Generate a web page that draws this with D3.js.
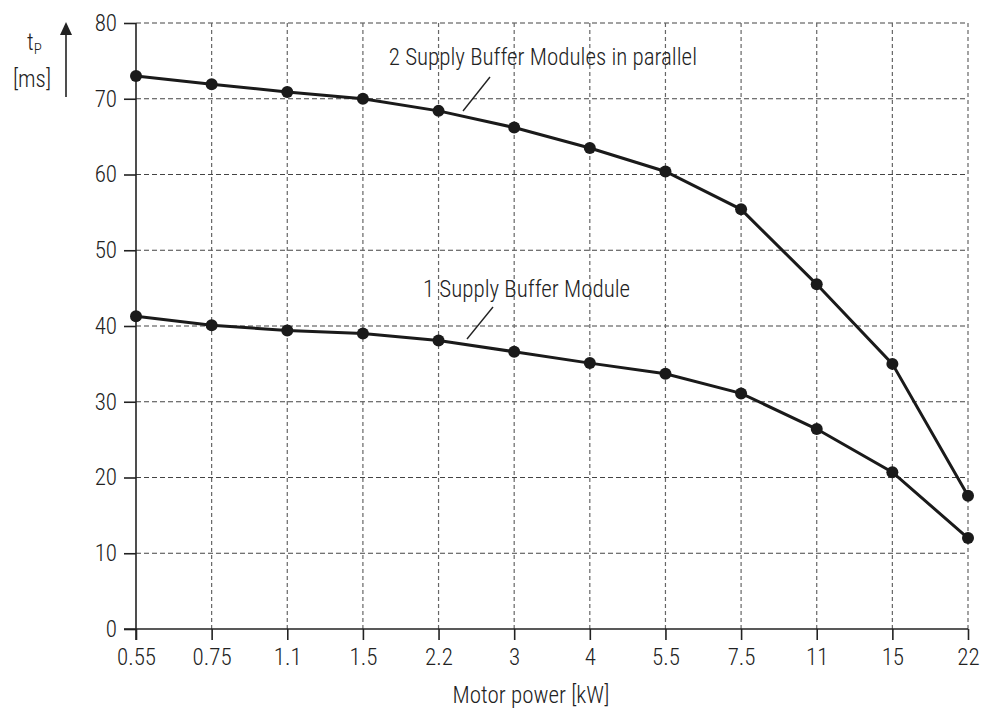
<!DOCTYPE html>
<head>
  <meta charset="utf-8">
  <script src="https://d3js.org/d3.v7.min.js"></script>
  <style>
    body { margin: 0; background: white; }
    text { font-family: "Roboto Condensed", "DejaVu Sans Condensed", sans-serif; font-weight: 300; fill: #222; }
  </style>
</head>

<body>
  <svg width="983" height="709"></svg>

  <script>
    const powers = ['0.55', '0.75', '1.1', '1.5', '2.2', '3', '4', '5.5', '7.5', '11', '15', '22'];
    const twoModules = [73, 71.9, 70.9, 70, 68.4, 66.2, 63.5, 60.4, 55.4, 45.5, 35, 17.6];
    const oneModule = [41.3, 40.1, 39.4, 39, 38.1, 36.6, 35.1, 33.7, 31.1, 26.4, 20.7, 12];
    const yTicks = [0, 10, 20, 30, 40, 50, 60, 70, 80];

    const svg = d3.select('svg');
    const plotLeft = 136, plotRight = 968, plotTop = 23, plotBottom = 629;
    const fontSize = 23;
    const fontFamily = '"Roboto Condensed", "DejaVu Sans Condensed", sans-serif';

    const x = d3.scalePoint().domain(powers).range([plotLeft, plotRight]);
    const y = d3.scaleLinear().domain([0, 80]).range([plotBottom, plotTop]);

    // grid
    svg.append('g').selectAll('line')
      .data(yTicks.slice(1))
      .enter().append('line')
      .attr('x1', plotLeft).attr('x2', plotRight)
      .attr('y1', d => y(d)).attr('y2', d => y(d))
      .attr('stroke', '#444').attr('stroke-width', 1.2)
      .attr('stroke-dasharray', '5,3');
    svg.append('g').selectAll('line')
      .data(powers.slice(1))
      .enter().append('line')
      .attr('x1', d => x(d)).attr('x2', d => x(d))
      .attr('y1', y(0)).attr('y2', y(80))
      .attr('stroke', '#666').attr('stroke-width', 1.2)
      .attr('stroke-dasharray', '4,3');

    // axes
    const yAxis = svg.append('g')
      .attr('transform', `translate(${plotLeft},0)`)
      .call(d3.axisLeft(y).tickValues(yTicks).tickSize(12).tickPadding(7));
    const xAxis = svg.append('g')
      .attr('transform', `translate(0,${plotBottom})`)
      .call(d3.axisBottom(x).tickSize(11).tickPadding(9));
    [yAxis, xAxis].forEach(a => {
      a.select('.domain').remove();
      a.selectAll('line').attr('stroke', '#222').attr('stroke-width', 1.6);
      a.selectAll('text').attr('font-size', fontSize).attr('fill', '#222')
        .style('font-family', fontFamily);
    });
    svg.append('line').attr('x1', plotLeft).attr('x2', plotLeft).attr('y1', plotTop).attr('y2', plotBottom + 11)
      .attr('stroke', '#222').attr('stroke-width', 1.6);
    svg.append('line').attr('x1', plotLeft - 12).attr('x2', plotRight).attr('y1', plotBottom).attr('y2', plotBottom)
      .attr('stroke', '#222').attr('stroke-width', 1.6);

    // series
    const line = d3.line().x((d, i) => x(powers[i])).y(d => y(d));
    [twoModules, oneModule].forEach(series => {
      svg.append('path').datum(series)
        .attr('d', line).attr('fill', 'none')
        .attr('stroke', '#1a1a1a').attr('stroke-width', 3);
      svg.append('g').selectAll('circle')
        .data(series)
        .enter().append('circle')
        .attr('cx', (d, i) => x(powers[i])).attr('cy', d => y(d))
        .attr('r', 6).attr('fill', '#1a1a1a');
    });

    // labels with leader lines
    svg.append('text').attr('x', 697).attr('y', 65).attr('text-anchor', 'end')
      .attr('font-size', fontSize).text('2 Supply Buffer Modules in parallel');
    svg.append('line').attr('x1', 490).attr('y1', 77).attr('x2', 463).attr('y2', 111)
      .attr('stroke', '#222').attr('stroke-width', 1.4);
    svg.append('text').attr('x', 423).attr('y', 297)
      .attr('font-size', fontSize).text('1 Supply Buffer Module');
    svg.append('line').attr('x1', 493).attr('y1', 307).attr('x2', 467).attr('y2', 339)
      .attr('stroke', '#222').attr('stroke-width', 1.4);

    // axis titles
    svg.append('text').attr('x', 531).attr('y', 703).attr('text-anchor', 'middle')
      .attr('font-size', fontSize).text('Motor power [kW]');
    const tp = svg.append('text').attr('x', 27).attr('y', 50).attr('font-size', fontSize);
    tp.append('tspan').text('t');
    tp.append('tspan').attr('font-size', 15).attr('dy', 4).text('P');
    svg.append('text').attr('x', 32).attr('y', 87).attr('text-anchor', 'middle')
      .attr('font-size', fontSize).text('[ms]');
    svg.append('line').attr('x1', 66).attr('x2', 66).attr('y1', 97).attr('y2', 32)
      .attr('stroke', '#222').attr('stroke-width', 1.6);
    svg.append('path').attr('d', 'M60,35 L66,22 L72,35 Z').attr('fill', '#222');
  </script>
</body>
